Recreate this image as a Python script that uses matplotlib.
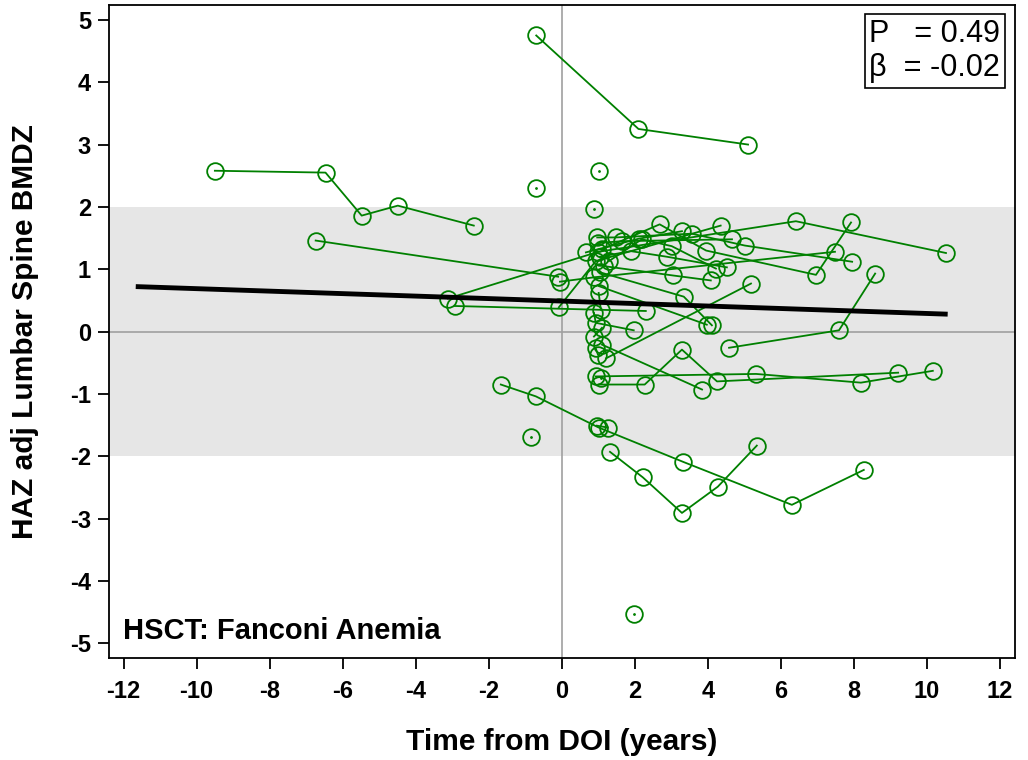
import matplotlib.pyplot as plt
import numpy as np

plt.rcParams['font.family'] = ['Liberation Sans', 'DejaVu Sans']
plt.rcParams['axes.unicode_minus'] = False

# each subject: list of (years from DOI, HAZ adj lumbar spine BMDZ)
subjects = [
    [(-0.7, 4.75), (2.1, 3.25), (5.1, 3.0)],
    [(-9.5, 2.58), (-6.47, 2.55), (-5.48, 1.86), (-4.49, 2.02), (-2.41, 1.70)],
    [(-0.71, 2.31)],
    [(1.01, 2.58)],
    [(0.88, 1.96)],
    [(-6.74, 1.46), (-0.1, 0.88)],
    [(-3.12, 0.53), (1.0, 1.28), (6.41, 1.77), (10.52, 1.26)],
    [(-2.93, 0.41), (2.30, 0.33)],
    [(-0.08, 0.39), (0.93, 1.13), (4.35, 1.70)],
    [(-0.05, 0.80), (0.88, 0.87), (7.48, 1.28)],
    [(0.97, 1.51), (1.48, 1.51), (3.56, 1.57), (5.01, 1.38), (7.95, 1.12)],
    [(1.10, 1.32), (2.68, 1.72), (3.95, 1.30), (6.96, 0.91), (7.92, 1.75)],
    [(1.0, 1.42), (1.64, 1.45), (4.66, 1.48)],
    [(0.66, 1.27), (2.11, 1.49), (3.29, 1.61)],
    [(1.29, 1.13), (2.19, 1.48), (3.01, 1.37), (4.22, 1.01)],
    [(1.04, 1.20), (1.89, 1.29), (2.88, 1.20), (4.52, 1.03)],
    [(1.15, 1.05), (3.04, 0.90), (4.08, 0.82)],
    [(1.05, 0.95), (3.34, 0.56), (4.11, 0.10)],
    [(1.01, 0.73), (3.97, 0.11)],
    [(1.01, 0.62), (1.07, 0.35)],
    [(0.88, 0.30), (0.93, 0.14), (1.97, 0.02)],
    [(1.10, 0.06), (0.88, -0.08)],
    [(1.10, -0.21), (3.84, -0.93)],
    [(0.93, -0.27), (0.99, -0.37)],
    [(1.21, -0.43), (5.18, 0.77)],
    [(1.01, -0.85), (2.27, -0.85), (3.29, -0.29), (4.25, -0.80), (9.21, -0.66)],
    [(0.93, -0.72), (5.32, -0.68), (8.19, -0.82), (10.16, -0.63)],
    [(1.07, -0.74)],
    [(4.58, -0.26), (7.59, 0.02), (8.58, 0.93)],
    [(-1.67, -0.85), (-0.71, -1.04), (1.01, -1.54), (3.32, -2.09), (6.30, -2.78), (8.27, -2.22)],
    [(0.96, -1.51), (1.26, -1.54)],
    [(1.32, -1.93), (2.22, -2.34), (3.29, -2.91), (4.27, -2.49), (5.34, -1.83)],
    [(-0.85, -1.69)],
    [(1.97, -4.53)],
]

# regression fit
fit_x = [-11.6, 10.5]
fit_y = [0.72, 0.28]
p_value = 0.49
beta = -0.02

green = '#008000'

fig = plt.figure(figsize=(10.28, 7.6), dpi=100)
ax = fig.add_axes([0.106, 0.134, 0.881, 0.8595])

ax.axhspan(-2, 2, color='#e6e6e6', zorder=0, lw=0)
ax.axhline(0, color='#a0a0a0', lw=1.2, zorder=1)
ax.axvline(0, color='#a0a0a0', lw=1.2, zorder=1)

for s in subjects:
    xs = [p[0] for p in s]
    ys = [p[1] for p in s]
    ax.plot(xs, ys, '-', color=green, lw=1.3, zorder=2)
    ax.plot(xs, ys, 'o', ms=12, mfc='none', mec=green, mew=1.3, zorder=3)
    if len(s) == 1:
        ax.plot(xs, ys, '.', ms=2, color=green, zorder=3)

ax.plot(fit_x, fit_y, color='black', lw=3.5, zorder=4)

ax.set_xlim(-12.4, 12.4)
ax.set_ylim(-5.24, 5.24)
ax.set_xticks(np.arange(-12, 13, 2))
ax.set_yticks(np.arange(-5, 6, 1))
ax.tick_params(direction='out', length=8, width=1.3, labelsize=17)
ax.tick_params(axis='x', pad=8)
ax.tick_params(axis='y', pad=5)
for lab in ax.get_xticklabels() + ax.get_yticklabels():
    lab.set_fontweight('bold')
for sp in ax.spines.values():
    sp.set_linewidth(1.3)

ax.set_xlabel('Time from DOI (years)', fontsize=21.5, fontweight='bold', labelpad=18)
ax.set_ylabel('HAZ adj Lumbar Spine BMDZ', fontsize=21.5, fontweight='bold', labelpad=22)

ax.text(0.984, 0.979, f'P   = {p_value:.2f}\nβ  = {beta:.2f}', transform=ax.transAxes,
        ha='right', va='top', fontsize=22, linespacing=1.2,
        bbox=dict(boxstyle='square,pad=0.15', fc='white', ec='black', lw=1.2), zorder=5)
ax.text(0.015, 0.02, 'HSCT: Fanconi Anemia', transform=ax.transAxes,
        ha='left', va='bottom', fontsize=21, fontweight='bold', zorder=5)

fig.savefig('out.png', dpi=100)
